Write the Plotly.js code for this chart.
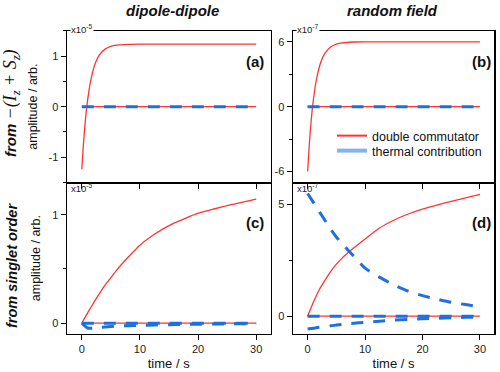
<!DOCTYPE html>
<html><head><meta charset="utf-8">
<script src="https://cdn.plot.ly/plotly-3.0.1.min.js"></script>
<style>html,body{margin:0;padding:0;background:#fff}#plot{width:500px;height:372px}</style>
</head><body><div id="plot"></div>
<script>
// time grids (s)
const tFast = [0,0.25,0.5,0.75,1,1.5,2,2.5,3,4,5,6,8,10,15,20,25,30];
const tSlow = [0,1,2,3,4,5,6,8,10,12.5,15,17.5,20,22.5,25,27.5,30];
const tZero = [0,30];
const zero2 = [0,0];

// (a) dipole-dipole from -(Iz+Sz), units x10^-5
const aDouble = [-1.24,-0.79,-0.42,-0.11,0.13,0.50,0.75,0.91,1.02,1.14,1.195,1.22,1.235,1.24,1.24,1.24,1.24,1.24];
// (b) random field from -(Iz+Sz), units x10^-7
const bDouble = [-6.0,-3.8,-2.0,-0.55,0.64,2.42,3.6,4.4,4.93,5.52,5.79,5.9,5.98,6.0,6.0,6.0,6.0,6.0];
// (c) dipole-dipole from singlet order, units x10^-5
const cDouble = [0,0.095,0.185,0.27,0.35,0.42,0.49,0.61,0.72,0.82,0.90,0.96,1.015,1.05,1.085,1.115,1.145];
const cThermal = [0,-0.045,-0.046,-0.04,-0.035,-0.03,-0.027,-0.023,-0.02,-0.017,-0.014,-0.012,-0.01,-0.008,-0.007,-0.006,-0.005];
// (d) random field from singlet order, units x10^-7
const dDouble = [0,0.62,1.17,1.6,2.0,2.33,2.6,3.05,3.46,3.95,4.3,4.58,4.8,4.98,5.15,5.3,5.46];
const dThermalUp = [5.5,5.1,4.7,4.3,3.9,3.55,3.25,2.7,2.15,1.75,1.4,1.12,0.92,0.76,0.62,0.52,0.42];
const dThermalLow = [-0.58,-0.54,-0.5,-0.47,-0.43,-0.40,-0.37,-0.32,-0.28,-0.23,-0.18,-0.15,-0.12,-0.095,-0.07,-0.055,-0.04];

const RED = '#ff3333', BLUE = '#1f6fe0';
const redL = {color: RED, width: 1.3, shape: 'spline', smoothing: 0.6};
const blueL = {color: BLUE, width: 3, dash: '12px,10px', shape: 'spline', smoothing: 0.6};

function tr(x, y, xa, ya, line, extra) {
  return Object.assign({x: x, y: y, xaxis: xa, yaxis: ya, mode: 'lines', line: line, showlegend: false, hoverinfo: 'skip'}, extra || {});
}

const data = [
  tr(tZero, zero2, 'x', 'y', redL), tr(tFast, aDouble, 'x', 'y', redL), tr(tZero, zero2, 'x', 'y', blueL),
  tr(tZero, zero2, 'x2', 'y2', redL), tr(tFast, bDouble, 'x2', 'y2', redL), tr(tZero, zero2, 'x2', 'y2', blueL),
  tr(tSlow, cDouble, 'x3', 'y3', redL), tr(tZero, zero2, 'x3', 'y3', redL), tr(tSlow, cThermal, 'x3', 'y3', blueL), tr(tZero, zero2, 'x3', 'y3', blueL),
  tr(tSlow, dDouble, 'x4', 'y4', redL), tr(tZero, zero2, 'x4', 'y4', redL), tr(tSlow, dThermalUp, 'x4', 'y4', blueL), tr(tSlow, dThermalLow, 'x4', 'y4', blueL), tr(tZero, zero2, 'x4', 'y4', blueL),
  // legend entries
  {x: [null], y: [null], xaxis: 'x2', yaxis: 'y2', mode: 'lines', line: {color: RED, width: 2}, name: 'double commutator', legend: 'legend'},
  {x: [null], y: [null], xaxis: 'x2', yaxis: 'y2', mode: 'lines', line: {color: '#86b2f0', width: 4}, name: 'thermal contribution', legend: 'legend2'}
];

const FONT = 'Liberation Sans, Arial, sans-serif';
const xTicks = [0,10,20,30];
const xTickText = ['0','10','20','30'];
const xRange = [-2.6, 32.5];
const colL = [0.1334, 0.5414], colR = [0.5854, 0.9886];
const rowT = [0.5099, 0.9167], rowB = [0.1022, 0.5099];

function xa(domain, anchor, labels) {
  const o = {domain: domain, anchor: anchor, range: xRange, tickmode: 'array', tickvals: xTicks, ticktext: xTickText,
    showticklabels: labels, ticks: 'outside', ticklen: 5, tickwidth: 1, tickcolor: '#000',
    showline: true, linecolor: '#000', linewidth: 1.2, mirror: labels ? false : true, showgrid: false, zeroline: false,
    tickfont: {family: FONT, size: 11, color: '#222'}};
  if (labels) o.title = {text: 'time / s', font: {family: FONT, size: 13, color: '#111'}, standoff: 4};
  return o;
}
function ya(domain, anchor, range, vals, texts, minorD, title) {
  const o = {domain: domain, anchor: anchor, range: range, tickmode: 'array', tickvals: vals, ticktext: texts,
    ticks: 'outside', ticklen: 5, tickwidth: 1, tickcolor: '#000',
    minor: {dtick: minorD, tick0: 0, ticklen: 3, tickwidth: 1, tickcolor: '#000', ticks: 'outside', showgrid: false},
    showline: true, linecolor: '#000', linewidth: 1.2, mirror: true, showgrid: false, zeroline: false,
    tickfont: {family: FONT, size: 11, color: '#222'}};
  if (title) o.title = {text: title, font: {family: FONT, size: 12.5, color: '#111'}, standoff: 8};
  return o;
}

const aYV = [-1,0,1], aYT = ['-1','0','1'];
const bYV = [-6,0,6], bYT = ['-6','0','6'];
const cYV = [0,1], cYT = ['0','1'];
const dYV = [0,5], dYT = ['0','5'];

function scale(txt, x, y, xanchor, bg) {
  return {text: txt, xref: 'paper', yref: 'paper', x: x, y: y, xanchor: xanchor, yanchor: 'middle', showarrow: false,
    font: {family: FONT, size: 9.5, color: '#222'}, bgcolor: bg ? '#fff' : 'rgba(0,0,0,0)', borderpad: 0};
}
function lab(txt, x, y) {
  return {text: '<b>' + txt + '</b>', xref: 'paper', yref: 'paper', x: x, y: y, xanchor: 'center', yanchor: 'middle', showarrow: false,
    font: {family: FONT, size: 15, color: '#111'}};
}
const legFont = {family: FONT, size: 12.5, color: '#111'};

const layout = {
  width: 500, height: 372, margin: {l: 0, r: 0, t: 0, b: 0}, paper_bgcolor: '#fff', plot_bgcolor: '#fff',
  font: {family: FONT},
  xaxis: xa(colL, 'y', false), yaxis: ya(rowT, 'x', [-1.5, 1.5], aYV, aYT, 0.5, 'amplitude / arb.'),
  xaxis2: xa(colR, 'y2', false), yaxis2: ya(rowT, 'x2', [-7, 7], bYV, bYT, 3, null),
  xaxis3: xa(colL, 'y3', true), yaxis3: ya(rowB, 'x3', [-0.1, 1.3], cYV, cYT, 0.5, 'amplitude / arb.'),
  xaxis4: xa(colR, 'y4', true), yaxis4: ya(rowB, 'x4', [-0.8, 6], dYV, dYT, 2.5, null),
  showlegend: true,
  legend: {x: 0.664, y: 1 - 121/372, xanchor: 'left', yanchor: 'top', bgcolor: 'rgba(0,0,0,0)', font: legFont, itemwidth: 30},
  legend2: {x: 0.664, y: 1 - 136/372, xanchor: 'left', yanchor: 'top', bgcolor: 'rgba(0,0,0,0)', font: legFont, itemwidth: 30},
  annotations: [
    {text: '<b><i>dipole-dipole</i></b>', xref: 'paper', yref: 'paper', x: 0.345, y: 1 - 11/372, xanchor: 'center', yanchor: 'middle', showarrow: false, font: {family: FONT, size: 15, color: '#111'}},
    {text: '<b><i>random field</i></b>', xref: 'paper', yref: 'paper', x: 0.785, y: 1 - 11/372, xanchor: 'center', yanchor: 'middle', showarrow: false, font: {family: FONT, size: 15, color: '#111'}},
    {text: '<b><i>from</i></b> <span style="font-family:Liberation Serif;font-style:italic;font-size:18px">−(<i>I</i><sub>z</sub> + <i>S</i><sub>z</sub>)</span>', xref: 'paper', yref: 'paper', x: 12/500, y: 1 - 103/372, xanchor: 'center', yanchor: 'middle', textangle: -90, showarrow: false, font: {family: FONT, size: 15, color: '#111'}},
    {text: '<b><i>from singlet order</i></b>', xref: 'paper', yref: 'paper', x: 12/500, y: 1 - 266/372, xanchor: 'center', yanchor: 'middle', textangle: -90, showarrow: false, font: {family: FONT, size: 14.5, color: '#111'}},
    scale('x10<sup>-5</sup>', 70/500, 1 - 29/372, 'left', true),
    scale('x10<sup>-7</sup>', 296/500, 1 - 29/372, 'left', true),
    scale('x10<sup>-5</sup>', 70/500, 1 - 188/372, 'left', false),
    scale('x10<sup>-7</sup>', 296/500, 1 - 188/372, 'left', false),
    lab('(a)', 255/500, 1 - 62/372), lab('(b)', 481/500, 1 - 62/372),
    lab('(c)', 255/500, 1 - 222/372), lab('(d)', 481/500, 1 - 222/372)
  ]
};

Plotly.newPlot('plot', data, layout, {staticPlot: true, displayModeBar: false});
</script></body></html>
